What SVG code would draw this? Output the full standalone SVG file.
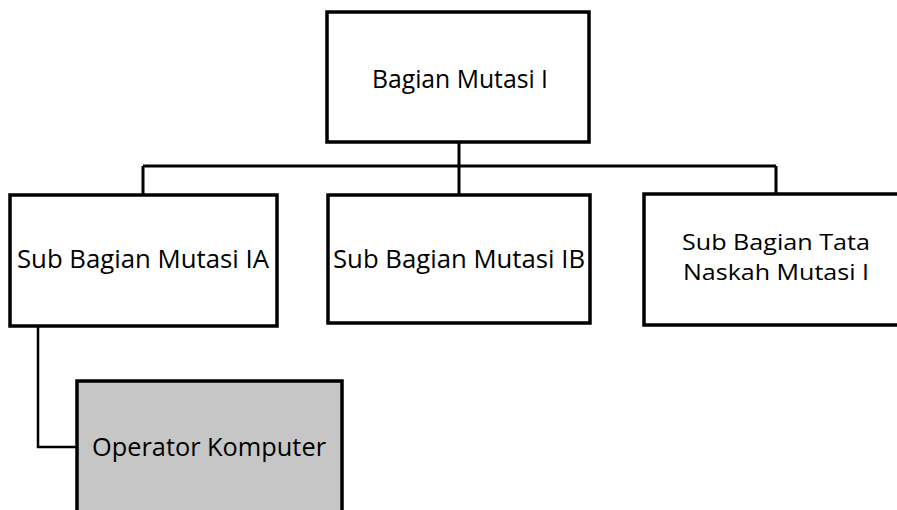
<svg xmlns="http://www.w3.org/2000/svg" width="897" height="510" viewBox="0 0 897 510">
<style>
.box{fill:#fff;stroke:#000;stroke-width:3.5}
.gray{fill:#c6c6c6;stroke:#000;stroke-width:3.5}
.t{font-family:"Open Sans","Liberation Sans",sans-serif;font-size:25px;fill:#000;text-anchor:middle}
.t2{font-size:21.5px}
.c{fill:none;stroke:#000;stroke-width:3}
</style>
<rect width="897" height="510" fill="#fff"/>
<g id="connectors">
<path class="c" d="M459 142 V195 M143 166 H776 M143 166 V195 M776 166 V194"/>
<path class="c" style="stroke-width:2.5" d="M38 327 V447 H77"/>
</g>
<g id="bagian">
<rect class="box" x="327" y="12" width="262" height="130"/>
<text class="t" x="460" y="88" textLength="176" lengthAdjust="spacingAndGlyphs">Bagian Mutasi I</text>
</g>
<g id="subA">
<rect class="box" x="10" y="195" width="267" height="131"/>
<text class="t" x="143" y="268" textLength="252" lengthAdjust="spacingAndGlyphs">Sub Bagian Mutasi IA</text>
</g>
<g id="subB">
<rect class="box" x="328" y="195" width="262" height="128"/>
<text class="t" x="459" y="268" textLength="252" lengthAdjust="spacingAndGlyphs">Sub Bagian Mutasi IB</text>
</g>
<g id="subTata">
<rect class="box" x="644" y="194" width="262" height="131"/>
<text class="t t2" x="776" y="250" textLength="188" lengthAdjust="spacingAndGlyphs">Sub Bagian Tata</text>
<text class="t t2" x="776" y="280" textLength="186" lengthAdjust="spacingAndGlyphs">Naskah Mutasi I</text>
</g>
<g id="operator">
<rect class="gray" x="77" y="381" width="265" height="140"/>
<text class="t" x="209" y="456" textLength="234" lengthAdjust="spacingAndGlyphs">Operator Komputer</text>
</g>
</svg>
